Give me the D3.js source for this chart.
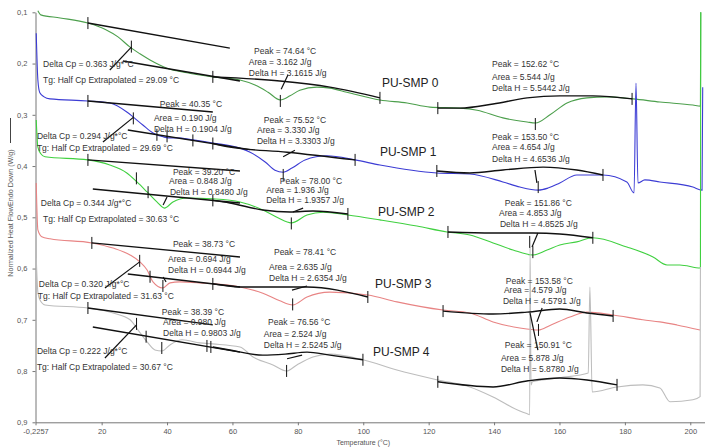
<!DOCTYPE html>
<html>
<head>
<meta charset="utf-8">
<script src="https://cdn.jsdelivr.net/npm/d3@7"></script>
<style>
  body { margin: 0; background: #fff; }
  svg { display: block; }
  text { font-family: "Liberation Sans", Arial, sans-serif; }
</style>
</head>
<body>
<script>
// ---- axis ticks ----
const xTicks = [-0.2257, 20, 40, 60, 80, 100, 120, 140, 160, 180, 200];
const xTickLabels = ["-0,2257", "20", "40", "60", "80", "100", "120", "140", "160", "180", "200"];
const yTicks = [0.1, 0.2, 0.3, 0.4, 0.5, 0.6, 0.7, 0.8, 0.9];
const yTickLabels = ["0,1", "0,2", "0,3", "0,4", "0,5", "0,6", "0,7", "0,8", "0,9"];
const sampleNames = ["PU-SMP 0", "PU-SMP 1", "PU-SMP 2", "PU-SMP 3", "PU-SMP 4"];
const sampleNameAnchors = [[105.7, 0.2457], [105.1, 0.3804], [104.5, 0.4974], [103.6, 0.638], [103.0, 0.7706]];

// ---- heat-flow traces: [temperature °C, W/g] ----
const smp0Curve = [[0.5,0.097],[1.4,0.105],[7.3,0.111],[15.8,0.121],[21.0,0.133],[25.0,0.148],[28.7,0.168],[31.7,0.181],[34.8,0.193],[40.0,0.209],[46.1,0.218],[54.0,0.226],[62.3,0.232],[66.9,0.242],[70.9,0.256],[74.64,0.271],[77.6,0.263],[80.6,0.252],[85.8,0.246],[89.8,0.248],[95.0,0.256],[105.1,0.271],[113.4,0.277],[120.4,0.285],[129.6,0.287],[134.8,0.291],[142.7,0.306],[150.1,0.314],[152.62,0.316],[157.1,0.300],[162.3,0.277],[168.4,0.267],[174.5,0.265],[182.5,0.269],[190.7,0.275],[200.8,0.281],[203.1,0.283],[203.2,0.1]];
const smp1Curve = [[0.0,0.141],[0.5,0.232],[1.1,0.257],[2.4,0.265],[4.2,0.269],[15.8,0.273],[22.5,0.277],[27.7,0.2945],[29.6,0.304],[32.6,0.320],[35.7,0.3355],[38.8,0.343],[40.35,0.345],[43.0,0.345],[47.9,0.349],[54.0,0.355],[62.3,0.365],[65.4,0.373],[70.0,0.392],[73.0,0.408],[75.52,0.412],[78.2,0.404],[82.2,0.388],[88.9,0.380],[97.5,0.388],[105.1,0.398],[122.5,0.4135],[132.6,0.4155],[142.7,0.431],[147.9,0.441],[153.5,0.447],[156.5,0.443],[160.1,0.433],[165.3,0.4174],[173.3,0.4174],[180.6,0.431],[182.8,0.4525],[183.4,0.238],[184.0,0.433],[186.1,0.427],[190.7,0.431],[200.8,0.441],[203.6,0.447],[203.8,0.246]];
const smp2Curve = [[0.0,0.310],[0.5,0.363],[1.4,0.376],[2.7,0.382],[15.8,0.388],[22.5,0.398],[27.7,0.4135],[30.8,0.431],[33.9,0.4506],[36.9,0.470],[39.2,0.482],[41.8,0.470],[46.1,0.4623],[54.0,0.464],[62.3,0.470],[69.3,0.4857],[73.9,0.501],[78.0,0.511],[82.8,0.4955],[87.7,0.490],[95.3,0.4955],[105.1,0.505],[116.4,0.517],[125.6,0.5286],[132.6,0.5345],[139.7,0.550],[145.8,0.5638],[151.86,0.5735],[156.2,0.5638],[160.1,0.554],[165.3,0.548],[170.2,0.540],[180.6,0.558],[188.6,0.5774],[192.9,0.593],[196.8,0.593],[203.1,0.599],[203.2,0.1]];
const smp3Curve = [[0.0,0.433],[0.5,0.5247],[1.7,0.538],[4.2,0.542],[17.0,0.550],[23.5,0.560],[28.7,0.5735],[31.7,0.587],[33.9,0.6028],[35.7,0.626],[38.73,0.638],[40.9,0.628],[43.9,0.626],[50.1,0.628],[62.3,0.636],[69.3,0.648],[74.5,0.663],[78.41,0.671],[82.8,0.6555],[89.8,0.646],[101.4,0.6515],[110.3,0.665],[124.4,0.681],[132.6,0.6867],[139.7,0.7042],[147.9,0.716],[153.58,0.720],[157.1,0.711],[163.2,0.6945],[168.4,0.685],[176.4,0.6906],[185.5,0.700],[190.7,0.704],[195.9,0.710],[203.0,0.7198]];
const smp4Curve = [[0.0,0.579],[0.5,0.646],[1.1,0.661],[2.7,0.671],[15.8,0.677],[23.5,0.6867],[28.7,0.700],[31.1,0.7198],[33.9,0.743],[36.3,0.7589],[38.39,0.761],[40.9,0.749],[44.6,0.739],[50.1,0.745],[54.0,0.747],[62.3,0.753],[66.3,0.7725],[72.4,0.788],[76.56,0.7998],[79.7,0.788],[84.6,0.7725],[89.8,0.767],[99.9,0.778],[110.3,0.798],[122.5,0.817],[132.6,0.831],[139.7,0.8505],[147.9,0.878],[150.0,0.883],[150.91,0.885],[151.0,0.558],[151.3,0.827],[151.7,0.821],[160.1,0.813],[168.8,0.804],[169.3,0.636],[170.0,0.841],[177.6,0.831],[185.5,0.827],[190.7,0.833],[193.8,0.860],[200.8,0.856],[203.0,0.850],[203.1,0.597]];

// ---- analysis baselines (tangents and integration limits) ----
const smp0Baselines = [
  [[15.8,0.121],[59.2,0.170]],
  [[26.5,0.195],[62.3,0.234]],
  [[54.0,0.226],[74.5,0.234],[89.8,0.246],[105.1,0.267]],
  [[122.8,0.287],[129.6,0.287],[139.7,0.279],[150.1,0.267],[160.1,0.263],[170.2,0.263],[182.2,0.269]]
];
const smp1Baselines = [
  [[15.8,0.273],[54.0,0.2945]],
  [[28.0,0.3296],[65.4,0.368]],
  [[54.0,0.356],[59.2,0.363],[76.7,0.373],[97.5,0.388]],
  [[122.5,0.4096],[132.6,0.4135],[142.7,0.4077],[155.0,0.402],[165.3,0.4077],[173.3,0.4174]]
];
const smp2Baselines = [
  [[15.8,0.388],[62.3,0.4096]],
  [[17.3,0.4447],[62.3,0.472]],
  [[54.0,0.467],[59.2,0.472],[69.3,0.4857],[77.6,0.4896],[84.6,0.4877],[95.3,0.4935]],
  [[125.9,0.5286],[139.7,0.5306],[151.9,0.5306],[160.1,0.5325],[170.2,0.540]]
];
const smp3Baselines = [
  [[17.0,0.550],[62.3,0.5774]],
  [[28.0,0.6106],[62.3,0.636]],
  [[54.0,0.630],[62.3,0.636],[82.8,0.636],[101.4,0.6555]],
  [[124.4,0.683],[139.7,0.6887],[150.1,0.685],[160.1,0.679],[168.4,0.6867],[176.4,0.6925]]
];
const smp4Baselines = [
  [[15.8,0.677],[54.0,0.710]],
  [[17.3,0.714],[62.3,0.763]],
  [[54.0,0.753],[59.2,0.759],[69.3,0.769],[76.1,0.767],[82.8,0.763],[89.8,0.769],[99.9,0.778]],
  [[122.8,0.821],[139.7,0.831],[150.4,0.819],[160.1,0.8135],[168.4,0.8174],[177.6,0.827]]
];

// ---- leader lines from result labels ----
const smp0Pointers = [[[22.5,0.2126],[29.09,0.168]], [[74.9,0.250],[77.0,0.222]]];
const smp1Pointers = [[[20.4,0.353],[29.69,0.305]], [[75.5,0.382],[79.1,0.369]], [[152.5,0.4077],[153.1,0.433]]];
const smp2Pointers = [[[38.8,0.476],[40.0,0.4604]], [[78.5,0.4896],[81.6,0.482]], [[151.6,0.558],[153.4,0.5306]]];
const smp3Pointers = [[[21.0,0.638],[31.63,0.587]], [[38.8,0.6164],[39.7,0.626]], [[78.2,0.642],[82.8,0.634]], [[153.1,0.704],[154.7,0.677]]];
const smp4Pointers = [[[21.0,0.7745],[30.67,0.710]], [[76.7,0.776],[81.3,0.769]], [[151.0,0.687],[153.4,0.759]]];

// ---- limit / peak markers ----
const smp0Ticks = [[15.8,0.121],[29.09,0.167],[54.0,0.226],[74.64,0.273],[105.1,0.267],[122.8,0.287],[182.2,0.269],[152.62,0.318]];
const smp1Ticks = [[15.8,0.273],[29.69,0.307],[36.9,0.339],[40.0,0.342],[47.9,0.350],[54.0,0.356],[97.5,0.388],[75.52,0.4174],[122.5,0.4096],[173.3,0.4174],[153.5,0.441]];
const smp2Ticks = [[15.8,0.388],[30.63,0.424],[34.2,0.451],[54.0,0.467],[95.3,0.4935],[78.0,0.512],[125.9,0.5286],[170.2,0.540],[150.9,0.548],[151.86,0.568]];
const smp3Ticks = [[17.0,0.550],[31.63,0.585],[34.8,0.616],[54.0,0.630],[38.73,0.634],[101.4,0.6555],[78.41,0.670],[124.4,0.683],[176.4,0.6925],[153.58,0.7198]];
const smp4Ticks = [[15.8,0.677],[30.67,0.708],[33.6,0.733],[52.2,0.751],[53.4,0.753],[38.39,0.755],[99.9,0.778],[76.56,0.7998],[122.8,0.821],[177.6,0.827]];

// ---- analysis results: [text, temperature, W/g] ----
const smp0Labels = [
  ["Delta Cp = 0.363 J/g*°C", 2.1, 0.2067],
  ["Tg: Half Cp Extrapolated = 29.09 °C", 2.1, 0.238],
  ["Peak = 74.64 °C", 66.6, 0.1814],
  ["Area = 3.162 J/g", 65.0, 0.2028],
  ["Delta H = 3.1615 J/g", 65.0, 0.2243],
  ["Peak = 152.62 °C", 139.4, 0.2067],
  ["Area = 5.544 J/g", 139.4, 0.232],
  ["Delta H = 5.5442 J/g", 139.4, 0.2535]
];
const smp1Labels = [
  ["Peak = 40.35 °C", 37.8, 0.2848],
  ["Area = 0.190 J/g", 36.0, 0.312],
  ["Delta H = 0.1904 J/g", 36.0, 0.3335],
  ["Delta Cp = 0.294 J/g*°C", 0.2, 0.347],
  ["Tg: Half Cp Extrapolated = 29.69 °C", 0.2, 0.3706],
  ["Peak = 75.52 °C", 69.6, 0.316],
  ["Area = 3.330 J/g", 67.5, 0.3355],
  ["Delta H = 3.3303 J/g", 67.5, 0.357],
  ["Peak = 153.50 °C", 139.4, 0.349],
  ["Area = 4.654 J/g", 139.4, 0.3687],
  ["Delta H = 4.6536 J/g", 139.4, 0.392]
];
const smp2Labels = [
  ["Peak = 39.20 °C", 41.8, 0.4174],
  ["Area = 0.848 J/g", 40.6, 0.435],
  ["Delta H = 0.8480 J/g", 40.9, 0.4564],
  ["Delta Cp = 0.344 J/g*°C", 1.4, 0.478],
  ["Tg: Half Cp Extrapolated = 30.63 °C", 2.1, 0.509],
  ["Peak = 78.00 °C", 74.5, 0.435],
  ["Area = 1.936 J/g", 70.3, 0.4525],
  ["Delta H = 1.9357 J/g", 70.3, 0.472],
  ["Peak = 151.86 °C", 143.3, 0.478],
  ["Area = 4.853 J/g", 141.5, 0.4974],
  ["Delta H = 4.8525 J/g", 141.8, 0.519]
];
const smp3Labels = [
  ["Peak = 38.73 °C", 41.8, 0.558],
  ["Area = 0.694 J/g", 40.3, 0.587],
  ["Delta H = 0.6944 J/g", 40.3, 0.6086],
  ["Delta Cp = 0.320 J/g*°C", 0.8, 0.636],
  ["Tg: Half Cp Extrapolated = 31.63 °C", 0.5, 0.6593],
  ["Peak = 78.41 °C", 72.7, 0.5735],
  ["Area = 2.635 J/g", 71.2, 0.6028],
  ["Delta H = 2.6354 J/g", 71.2, 0.624],
  ["Peak = 153.58 °C", 143.6, 0.630],
  ["Area = 4.579 J/g", 143.0, 0.6476],
  ["Delta H = 4.5791 J/g", 142.7, 0.669]
];
const smp4Labels = [
  ["Peak = 38.39 °C", 38.4, 0.6906],
  ["Area = 0.980 J/g", 38.8, 0.710],
  ["Delta H = 0.9803 J/g", 38.8, 0.7315],
  ["Delta Cp = 0.222 J/g*°C", 0.2, 0.7667],
  ["Tg: Half Cp Extrapolated = 30.67 °C", 0.2, 0.798],
  ["Peak = 76.56 °C", 70.9, 0.710],
  ["Area = 2.524 J/g", 69.6, 0.7335],
  ["Delta H = 2.5245 J/g", 69.6, 0.755],
  ["Peak = 150.91 °C", 143.3, 0.755],
  ["Area = 5.878 J/g", 142.1, 0.7803],
  ["Delta H = 5.8780 J/g", 142.1, 0.8018]
];

// ---- assemble ----
const traceColors = ["#4c9f4c", "#3c3cd4", "#40d040", "#e88484", "#bdbdbd"];
const samples = [
  { curve: smp0Curve, baselines: smp0Baselines, pointers: smp0Pointers, ticks: smp0Ticks, labels: smp0Labels },
  { curve: smp1Curve, baselines: smp1Baselines, pointers: smp1Pointers, ticks: smp1Ticks, labels: smp1Labels },
  { curve: smp2Curve, baselines: smp2Baselines, pointers: smp2Pointers, ticks: smp2Ticks, labels: smp2Labels },
  { curve: smp3Curve, baselines: smp3Baselines, pointers: smp3Pointers, ticks: smp3Ticks, labels: smp3Labels },
  { curve: smp4Curve, baselines: smp4Baselines, pointers: smp4Pointers, ticks: smp4Ticks, labels: smp4Labels }
];

const W = 705, H = 448;
const svg = d3.select("body").append("svg").attr("width", W).attr("height", H);

const x = d3.scaleLinear().domain([-0.2257, 204.5]).range([35.5, 705]);
const y = d3.scaleLinear().domain([0.1, 0.9]).range([12.3, 422.3]);

const smooth = d3.line().x(d => x(d[0])).y(d => y(d[1])).curve(d3.curveMonotoneX);
const straight = d3.line().x(d => x(d[0])).y(d => y(d[1]));

// axes
const xAxis = svg.append("g").attr("transform", `translate(0,${y(0.9)})`)
  .call(d3.axisBottom(x).tickValues(xTicks).tickFormat((d, i) => xTickLabels[i]).tickSize(3).tickSizeOuter(0).tickPadding(3));
const yAxis = svg.append("g").attr("transform", `translate(${x(-0.2257)},0)`)
  .call(d3.axisLeft(y).tickValues(yTicks).tickFormat((d, i) => yTickLabels[i]).tickSize(3).tickSizeOuter(0).tickPadding(5));
[xAxis, yAxis].forEach(g => {
  g.select(".domain").attr("stroke", "#777");
  g.selectAll(".tick line").attr("stroke", "#777");
  g.selectAll(".tick text").attr("fill", "#555").style("font-size", "7.5px").style("font-family", "Liberation Sans, Arial, sans-serif");
});

svg.append("text").attr("x", x(100)).attr("y", 445).attr("text-anchor", "middle")
  .attr("fill", "#555").style("font-size", "7px").text("Temperature (°C)");

const yl = svg.append("g").attr("transform", "translate(13,213) rotate(-90)");
yl.append("text").attr("text-anchor", "middle").attr("fill", "#555").style("font-size", "7.2px")
  .text("Normalized Heat FlowEndo Down (W/g)");
yl.append("line").attr("x1", 70).attr("x2", 95).attr("y1", -2.5).attr("y2", -2.5)
  .attr("stroke", "#444").attr("stroke-width", 1);

// traces
samples.forEach((s, i) => {
  svg.append("path").attr("d", smooth(s.curve)).attr("fill", "none")
    .attr("stroke", traceColors[i]).attr("stroke-width", 1.1);
});

// annotation geometry
samples.forEach(s => {
  const g = svg.append("g").attr("stroke", "#111").attr("fill", "none");
  s.baselines.forEach(b => g.append("path").attr("d", smooth(b)).attr("stroke-width", 1.4));
  s.pointers.forEach(p => g.append("path").attr("d", straight(p)).attr("stroke-width", 1.2));
  s.ticks.forEach(t => g.append("line")
    .attr("x1", x(t[0])).attr("x2", x(t[0]))
    .attr("y1", y(t[1]) - 6).attr("y2", y(t[1]) + 6)
    .attr("stroke-width", 1));
});

// result text
samples.forEach(s => {
  svg.append("g").selectAll("text").data(s.labels).join("text")
    .attr("x", d => x(d[1])).attr("y", d => y(d[2]))
    .attr("fill", "#333").style("font-size", "8.5px").text(d => d[0]);
});

svg.append("g").selectAll("text").data(sampleNames).join("text")
  .attr("x", (d, i) => x(sampleNameAnchors[i][0])).attr("y", (d, i) => y(sampleNameAnchors[i][1]))
  .attr("fill", "#222").style("font-size", "12px").text(d => d);
</script>
</body>
</html>
